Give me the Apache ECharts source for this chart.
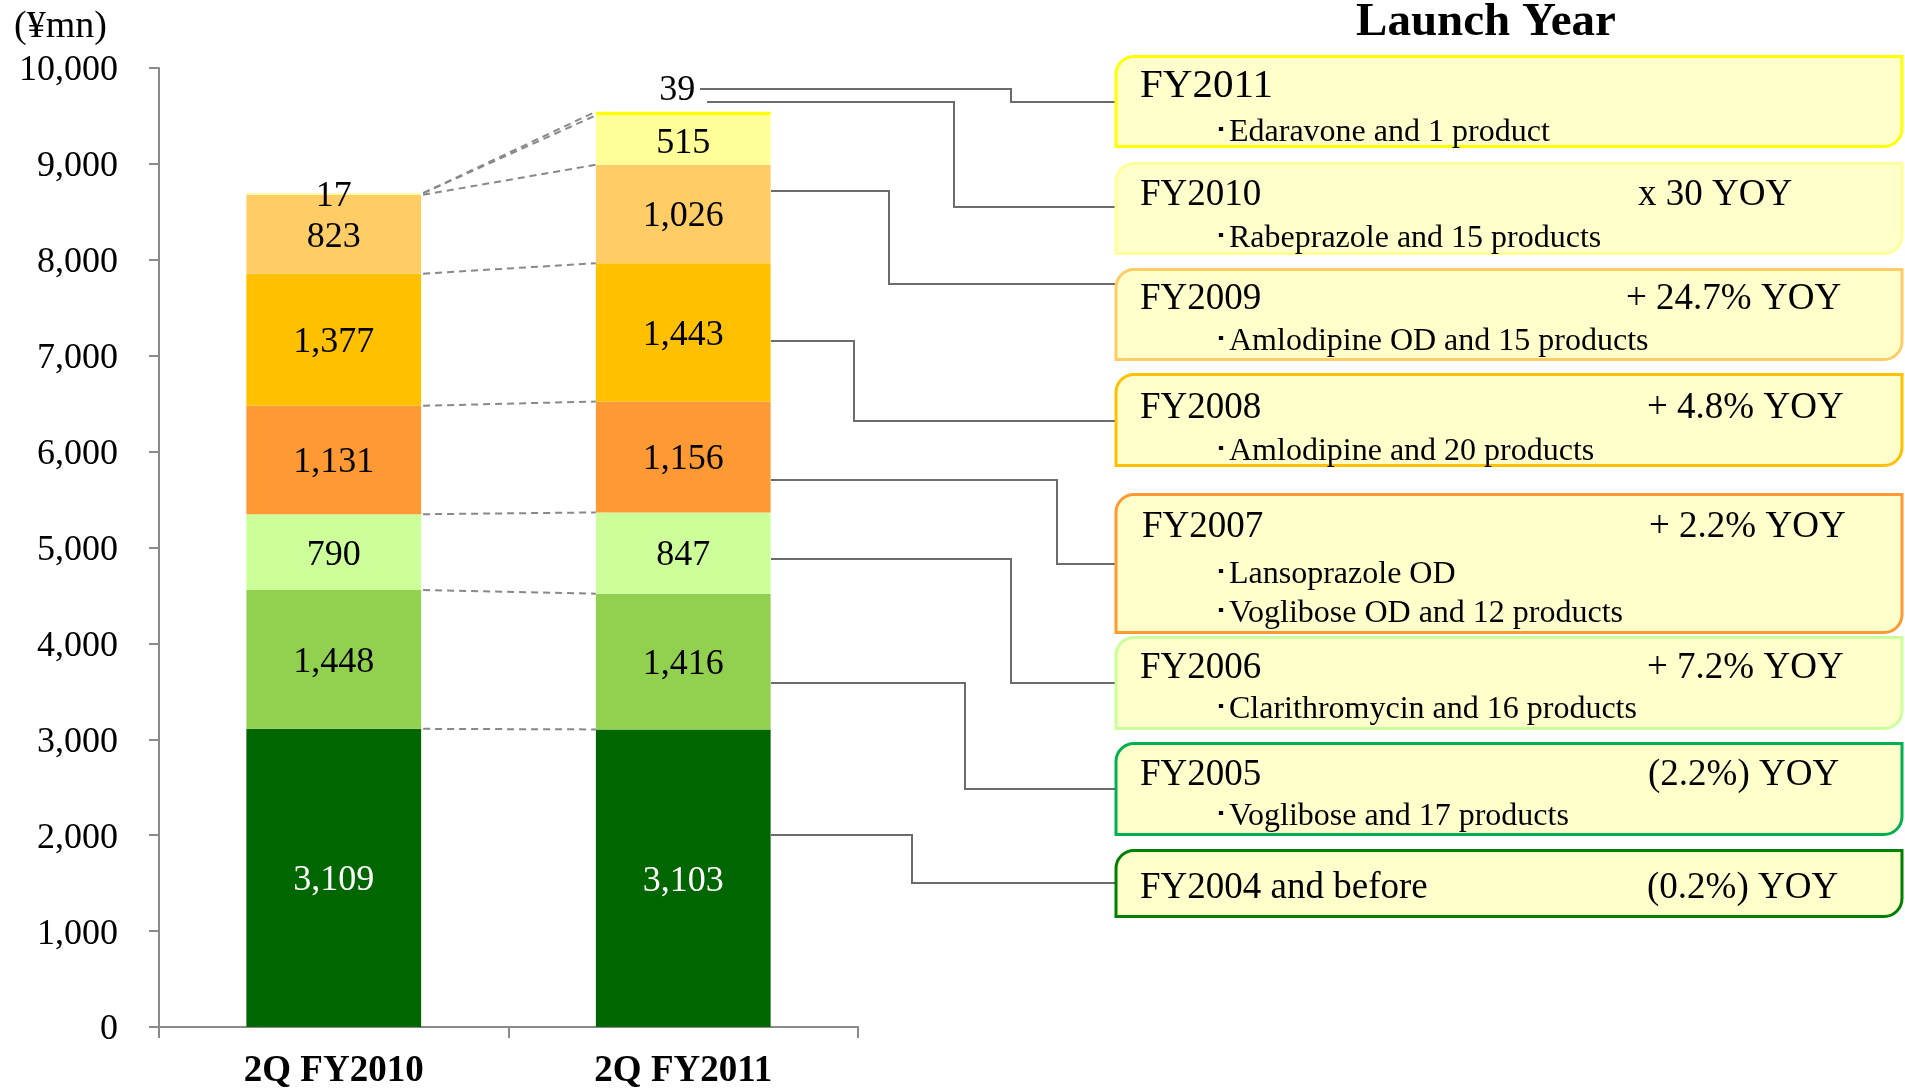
<!DOCTYPE html>
<html><head><meta charset="utf-8">
<script src="https://cdn.jsdelivr.net/npm/echarts@6/dist/echarts.min.js"></script>
<style>html,body{margin:0;padding:0;background:#fff}#c{width:1905px;height:1090px}</style>
</head><body><div id="c"></div>
<script>
// ---------- data ----------
const categories = ['2Q FY2010', '2Q FY2011'];
const launchYears = ['FY2004 and before', 'FY2005', 'FY2006', 'FY2007', 'FY2008', 'FY2009', 'FY2010', 'FY2011'];
const sales2QFY2010 = [3109, 1448, 790, 1131, 1377, 823, 17, 0];
const sales2QFY2011 = [3103, 1416, 847, 1156, 1443, 1026, 515, 39];
const yoyText = ['(0.2%) YOY', '(2.2%) YOY', '+ 7.2% YOY', '+ 2.2% YOY', '+ 4.8% YOY', '+ 24.7% YOY', 'x 30 YOY', ''];
const productText = [
  [],
  ['Voglibose and 17 products'],
  ['Clarithromycin and 16 products'],
  ['Lansoprazole OD', 'Voglibose OD and 12 products'],
  ['Amlodipine and 20 products'],
  ['Amlodipine OD and 15 products'],
  ['Rabeprazole and 15 products'],
  ['Edaravone and 1 product']
];
const unitText = '(¥mn)';
const panelTitle = 'Launch Year';

// ---------- styles / layout ----------
const SERIF = '"Liberation Serif", "Times New Roman", serif';
const barColors = ['#006600', '#92D050', '#CCFF99', '#FF9933', '#FFC000', '#FFCC66', '#FFFF99', '#FFFF00'];
const boxBorderColors = ['#008000', '#00B050', '#CCFF99', '#FF9933', '#FFC000', '#FFCC66', '#FFFF99', '#FFFF00'];
const boxTop = [849, 742, 636, 493, 373, 268, 162, 55];
const boxBottom = [918, 836, 730, 634, 467, 361, 255, 148];
const TEXT_DY = 3.5;
const titleY = [885, 772, 665, 524, 405, 296, 192, 83];
const titleX = [1140, 1140, 1140, 1142, 1140, 1140, 1140, 1140];
const titleSize = [37, 37, 37, 37, 37, 37, 37, 41];
const subY = [[], [813], [706], [571, 610], [448], [338], [235], [129]];
const yoyX = [1647, 1648, 1647, 1649, 1647, 1626, 1638, 0];
const leaders = [
  [[771, 835], [912, 835], [912, 883], [1115, 883]],
  [[771, 683], [965, 683], [965, 789], [1115, 789]],
  [[771, 559], [1011, 559], [1011, 683], [1115, 683]],
  [[771, 480], [1057, 480], [1057, 564], [1115, 564]],
  [[771, 341], [854, 341], [854, 421], [1115, 421]],
  [[771, 191], [889, 191], [889, 284], [1115, 284]],
  [[707, 102], [954, 102], [954, 207], [1115, 207]],
  [[700, 89], [1011, 89], [1011, 102], [1115, 102]]
];

function cumulative(arr) { let s = 0; return arr.map(v => (s += v)); }
const cum1 = cumulative(sales2QFY2010);
const cum2 = cumulative(sales2QFY2011);

const barSeries = launchYears.map((name, i) => ({
  name: name,
  type: 'bar',
  stack: 'total',
  barWidth: '50%',
  silent: true,
  emphasis: { disabled: true },
  itemStyle: { color: barColors[i] },
  label: {
    show: true,
    position: i === 7 ? 'top' : 'inside',
    offset: i === 7 ? [-6, 2] : [0, 3],
    distance: 5,
    color: i === 0 ? '#ffffff' : '#000000',
    fontSize: 36,
    fontFamily: SERIF,
    formatter: p => (p.value > 0 ? p.value.toLocaleString('en-US') : '')
  },
  data: [sales2QFY2010[i], sales2QFY2011[i]]
}));

const dashSeries = {
  type: 'custom',
  silent: true,
  clip: false,
  z: 1,
  encode: { x: 0, y: [1, 2] },
  data: launchYears.map((_, i) => [0, cum1[i], cum2[i]]),
  renderItem: function (params, api) {
    const a = api.coord([0, api.value(1)]);
    const b = api.coord([1, api.value(2)]);
    const hw = api.size([1, 0])[0] * 0.25;
    return {
      type: 'line',
      shape: { x1: a[0] + hw + 2, y1: a[1], x2: b[0] - hw, y2: b[1] },
      style: { stroke: '#888888', lineWidth: 2, lineDash: [7, 5] }
    };
  }
};

function txt(text, x, y, size, opts) {
  opts = opts || {};
  return {
    type: 'text', silent: true,
    style: {
      text: text, x: x, y: y + TEXT_DY,
      fontSize: size, fontFamily: SERIF, fontWeight: opts.bold ? 'bold' : 'normal',
      fill: '#000', textAlign: opts.align || 'left', align: opts.align || 'left',
      textVerticalAlign: 'middle', verticalAlign: 'middle'
    }
  };
}

const graphics = [];
graphics.push(txt(unitText, 14, 24, 38));
graphics.push(txt(panelTitle, 1486, 19, 47, { bold: true, align: 'center' }));
launchYears.forEach((name, i) => {
  graphics.push({
    type: 'polyline', silent: true,
    shape: { points: leaders[i] },
    style: { stroke: '#6b6b6b', lineWidth: 2, fill: null }
  });
  graphics.push({
    type: 'rect', silent: true,
    shape: { x: 1116, y: boxTop[i] + 1.5, width: 786, height: boxBottom[i] - boxTop[i] - 3, r: [18, 0, 18, 0] },
    style: { fill: '#FFFFCC', stroke: boxBorderColors[i], lineWidth: 3 }
  });
  graphics.push(txt(name, titleX[i], titleY[i], titleSize[i]));
  if (yoyText[i]) graphics.push(txt(yoyText[i], yoyX[i], titleY[i], 37));
  productText[i].forEach((p, k) => {
    graphics.push(txt('\uFF65' + p, 1213, subY[i][k], 32));
  });
});

const chart = echarts.init(document.getElementById('c'), null, { renderer: 'canvas' });
chart.setOption({
  animation: false,
  backgroundColor: '#ffffff',
  grid: { left: 159, top: 68, width: 699, height: 961 },
  xAxis: {
    type: 'category',
    data: categories,
    axisLine: { show: true, lineStyle: { color: '#8a8a8a', width: 2 } },
    axisTick: { show: true, length: 11, lineStyle: { color: '#8a8a8a', width: 2 } },
    axisLabel: { margin: 26, color: '#000', fontSize: 37, fontWeight: 'bold', fontFamily: SERIF }
  },
  yAxis: {
    type: 'value',
    min: 0, max: 10000, interval: 1000,
    axisLine: { show: true, lineStyle: { color: '#8a8a8a', width: 2 } },
    axisTick: { show: true, length: 10, lineStyle: { color: '#8a8a8a', width: 2 } },
    splitLine: { show: false },
    axisLabel: { margin: 41, color: '#000', fontSize: 36, fontFamily: SERIF,
      formatter: v => '{n|' + v.toLocaleString('en-US') + '}',
      rich: { n: { fontSize: 36, fontFamily: SERIF, color: '#000', padding: [6, 0, 0, 0] } } }
  },
  series: barSeries.concat([dashSeries]),
  graphic: { elements: graphics }
});
</script></body></html>
